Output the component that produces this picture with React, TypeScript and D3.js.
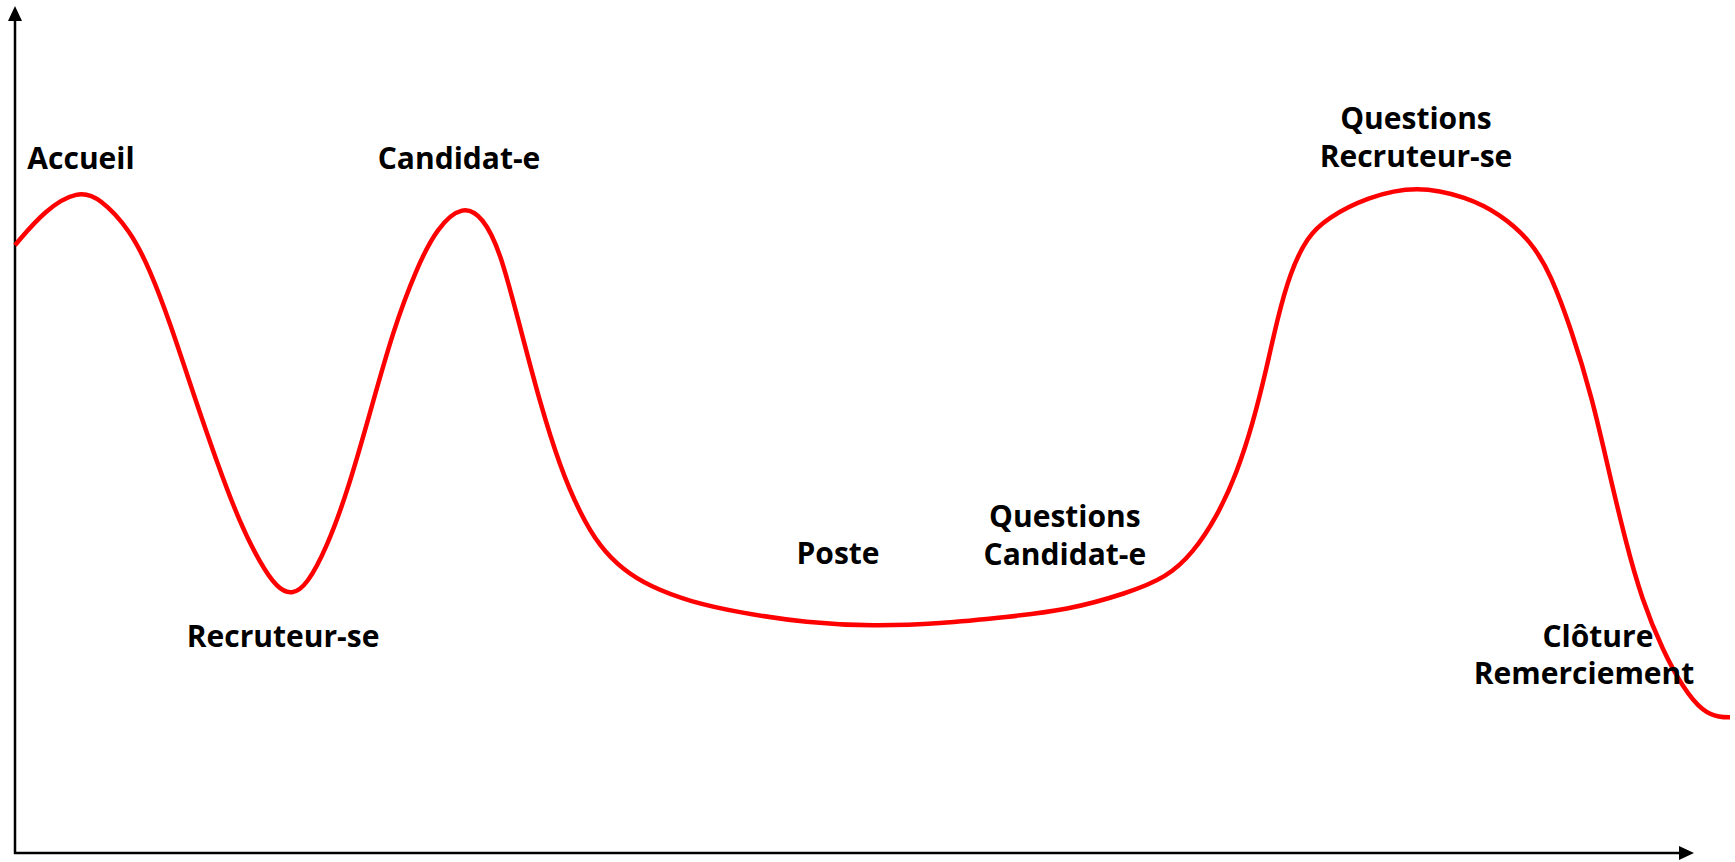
import React from "react";
import * as d3 from "d3";

const W = 1735;
const H = 862;

// Interview timeline: time (0-100) vs engagement level (0-100)
const timePoints = [
  0, 1.75, 3.67, 4.96, 6.71, 7.87, 9.04, 10.38, 11.78, 13.12, 14.29, 15.28,
  16.15, 17.03, 18.19, 19.36, 20.7, 22.04, 23.44, 24.61, 26.12, 27.29, 28.28,
  29.45, 30.61, 31.78, 32.94, 34.11, 35.45, 37.03, 39.36, 42.27, 46.18, 50.03,
  53.94, 57.84, 61.34, 64.84, 67.17, 68.69, 70.09, 71.25, 72.19, 73.0, 73.59,
  74.34, 75.34, 76.5, 78.83, 81.75, 84.66, 86.59, 88.4, 89.56, 90.73, 91.95,
  92.89, 93.88, 94.87, 96.09, 97.26, 98.43, 99.42, 100,
];
const levelPoints = [
  72.1, 76.3, 78.6, 77.7, 73.9, 69.2, 62.9, 54.6, 46.3, 39.1, 34.4, 31.4, 30.6,
  31.8, 36.3, 42.7, 52.2, 62.0, 69.5, 74.2, 76.9, 75.4, 71.5, 62.4, 53.4, 45.8,
  40.3, 36.3, 33.6, 31.6, 29.8, 28.5, 27.3, 26.9, 27.2, 28.0, 28.8, 30.8, 32.7,
  35.6, 39.9, 45.1, 51.0, 57.7, 63.2, 68.8, 73.1, 75.3, 77.8, 79.2, 77.8, 75.8,
  72.6, 68.6, 62.2, 54.1, 45.7, 37.2, 30.0, 24.0, 19.6, 16.7, 16.1, 16.1,
];

const labelLines = [
  ["Accueil"],
  ["Candidat-e"],
  ["Recruteur-se"],
  ["Poste"],
  ["Questions", "Candidat-e"],
  ["Questions", "Recruteur-se"],
  ["Clôture"],
  ["Remerciement"],
];
const labelTime = [3.85, 25.89, 15.63, 47.99, 61.22, 81.69, 92.3, 91.49];
const labelLevel = [81.1, 81.1, 24.4, 34.3, 38.7, 85.9, 24.4, 20.0];

export default function App() {
  const x = d3.scaleLinear().domain([0, 100]).range([15, 1730]);
  const y = d3.scaleLinear().domain([0, 100]).range([853, 10]);

  const pts: [number, number][] = timePoints.map((t, i) => [t, levelPoints[i]]);
  const line = d3
    .line<[number, number]>()
    .x((d) => x(d[0]))
    .y((d) => y(d[1]))
    .curve(d3.curveBasis);

  const x0 = x(0);
  const y0 = y(0);
  const yTop = 6;
  const xEnd = 1694;

  return (
    <svg
      width={W}
      height={H}
      style={{ position: "absolute", left: 0, top: 0, background: "#fff" }}
    >
      {/* axes */}
      <line x1={x0} y1={y0 + 1} x2={x0} y2={yTop + 12} stroke="#000" strokeWidth={2.5} />
      <path d={`M${x0},${yTop} L${x0 - 7},${yTop + 15} L${x0 + 7},${yTop + 15} Z`} fill="#000" />
      <line x1={x0 - 1} y1={y0} x2={xEnd - 12} y2={y0} stroke="#000" strokeWidth={2.5} />
      <path d={`M${xEnd},${y0} L${xEnd - 15},${y0 - 7} L${xEnd - 15},${y0 + 7} Z`} fill="#000" />

      {/* curve */}
      <path d={line(pts) || ""} fill="none" stroke="#ff0000" strokeWidth={4.5} strokeLinejoin="round" />

      {/* labels */}
      {labelLines.map((lines, i) => (
        <text
          key={i}
          x={x(labelTime[i])}
          y={y(labelLevel[i])}
          textAnchor="middle"
          fontFamily="'Open Sans', 'DejaVu Sans', sans-serif"
          fontWeight={700}
          fontSize={30}
          fill="#000"
        >
          {lines.map((l, j) => (
            <tspan key={j} x={x(labelTime[i])} dy={j === 0 ? 0 : 38}>
              {l}
            </tspan>
          ))}
        </text>
      ))}
    </svg>
  );
}
